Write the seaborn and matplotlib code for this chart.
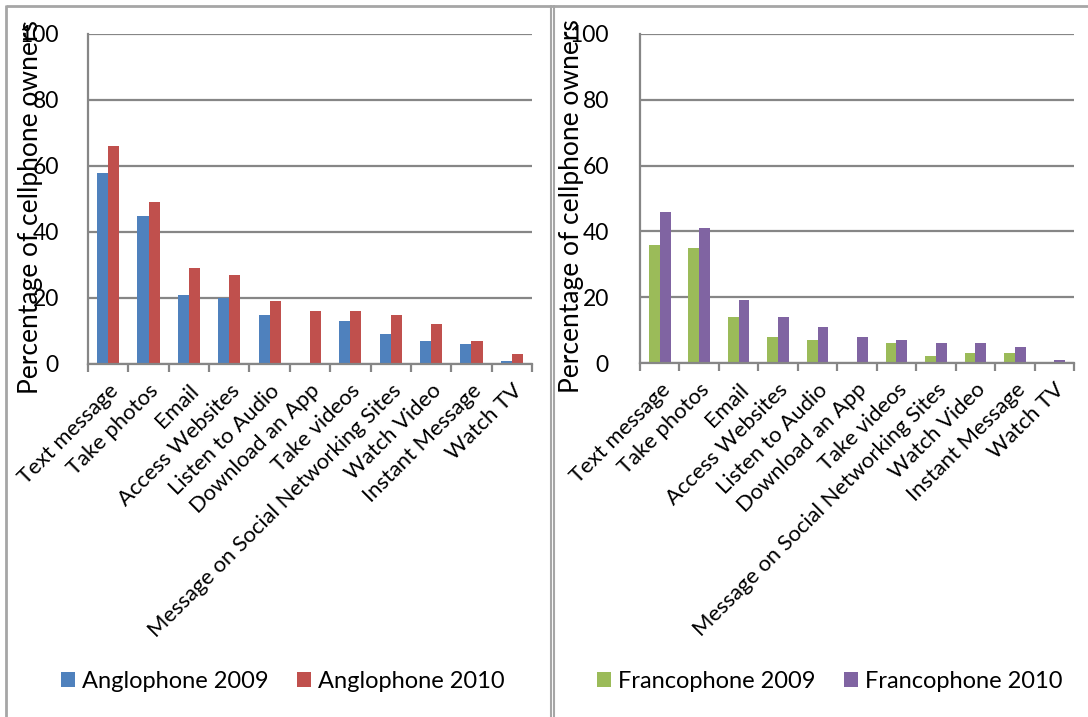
import matplotlib
matplotlib.use("Agg")
import matplotlib.pyplot as plt
from matplotlib.lines import Line2D
from matplotlib.patches import Patch
from matplotlib.ticker import FixedLocator
import seaborn as sns
import pandas as pd
import numpy as np

# Cellphone activities, percentage of owners
activities = [
    "Text message", "Take photos", "Email", "Access Websites", "Listen to Audio",
    "Download an App", "Take videos", "Message on Social Networking Sites",
    "Watch Video", "Instant Message", "Watch TV",
]
anglophone_2009 = [58, 45, 21, 20, 15, 0, 13, 9, 7, 6, 1]
anglophone_2010 = [66, 49, 29, 27, 19, 16, 16, 15, 12, 7, 3]
francophone_2009 = [36, 35, 14, 8, 7, 0, 6, 2, 3, 3, 0]
francophone_2010 = [46, 41, 19, 14, 11, 8, 7, 6, 6, 5, 1]

y_ticks = [0, 20, 40, 60, 80, 100]
y_label = "Percentage of cellphone owners"

sns.set_style("white")
plt.rcParams["font.family"] = ["Lato", "DejaVu Sans"]
plt.rcParams["text.color"] = "black"
plt.rcParams["axes.labelcolor"] = "black"
plt.rcParams["xtick.color"] = "black"
plt.rcParams["ytick.color"] = "black"

W, H = 1088, 717
fig = plt.figure(figsize=(W / 100, H / 100), dpi=100)

GRID = "#868686"
BORDER = "#a6a6a6"


def px_axes(x0, x1, y_top, y_bot):
    return fig.add_axes([x0 / W, 1 - y_bot / H, (x1 - x0) / W, (y_bot - y_top) / H])


def long_frame(name_a, vals_a, name_b, vals_b):
    return pd.DataFrame({
        "activity": activities * 2,
        "value": list(vals_a) + list(vals_b),
        "group": [name_a] * len(activities) + [name_b] * len(activities),
    })


def draw_panel(ax, df, names, colors, ylab_x, legend_cx, tick_pad):
    sns.barplot(data=df, x="activity", y="value", hue="group", order=activities,
                hue_order=names, palette=colors, width=0.55, gap=0,
                saturation=1, errorbar=None, legend=False, ax=ax,
                edgecolor="none", linewidth=0)
    ax.set_ylim(0, 100)
    ax.set_xlim(-0.5, len(activities) - 0.5)
    ax.set_yticks(y_ticks)
    ax.yaxis.grid(True, color=GRID, linewidth=1.6)
    ax.set_axisbelow(True)
    for s in ["top", "right"]:
        ax.spines[s].set_visible(False)
    for s in ["left", "bottom"]:
        ax.spines[s].set_color(GRID)
        ax.spines[s].set_linewidth(1.6)
    ax.tick_params(axis="y", which="major", length=8, width=1.6, color=GRID,
                   labelsize=16.5, pad=tick_pad, labelcolor="black")
    ax.xaxis.set_minor_locator(FixedLocator(np.arange(-0.5, len(activities), 1.0)))
    ax.tick_params(axis="x", which="minor", length=6, width=1.6, color=GRID,
                   direction="out", bottom=True)
    ax.tick_params(axis="x", which="major", length=0, labelsize=15.8, pad=12,
                   labelcolor="black")
    ax.set_xticks(range(len(activities)))
    ax.set_xticklabels(activities, rotation=45, ha="right", rotation_mode="anchor")
    ax.set_xlabel("")
    ax.set_ylabel(y_label, fontsize=19, labelpad=0, color="black")
    ax.yaxis.set_label_coords(ylab_x, 0.476)
    handles = [Patch(facecolor=c, edgecolor="none") for c in colors]
    fig.legend(handles, names, loc="center", ncol=2, frameon=False,
               bbox_to_anchor=(legend_cx / W, 1 - 681 / H), fontsize=17,
               handlelength=0.6, handleheight=0.6, handletextpad=0.3,
               columnspacing=1.2)


ax_left = px_axes(88, 532, 34, 364)
draw_panel(ax_left,
           long_frame("Anglophone 2009", anglophone_2009, "Anglophone 2010", anglophone_2010),
           ["Anglophone 2009", "Anglophone 2010"], ["#4F81BD", "#C0504D"],
           -0.101, 283, 13)

ax_right = px_axes(640, 1074, 34, 363)
draw_panel(ax_right,
           long_frame("Francophone 2009", francophone_2009, "Francophone 2010", francophone_2010),
           ["Francophone 2009", "Francophone 2010"], ["#9BBB59", "#8064A2"],
           -0.128, 830, 14.5)

# Chart-area frames around the two panels
def fig_line(xs, ys, lw=2.0):
    fig.add_artist(Line2D([x / W for x in xs], [1 - y / H for y in ys],
                          color=BORDER, linewidth=lw, solid_capstyle="butt"))

fig_line([6, 6], [5, H])
fig_line([6, W], [5.5, 5.5])
fig_line([550.5, 550.5], [5, H], lw=1.5)
fig_line([553.5, 553.5], [5, H], lw=1.5)

fig.savefig("out.png", dpi=100)
